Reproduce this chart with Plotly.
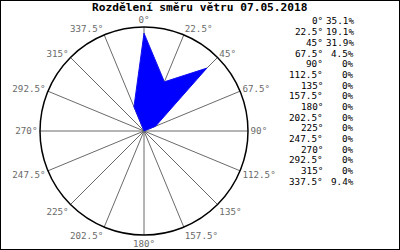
import plotly.graph_objects as go

directions = [0, 22.5, 45, 67.5, 90, 112.5, 135, 157.5, 180, 202.5, 225, 247.5, 270, 292.5, 315, 337.5]
dir_labels = ["0°", "22.5°", "45°", "67.5°", "90°", "112.5°", "135°", "157.5°", "180°",
              "202.5°", "225°", "247.5°", "270°", "292.5°", "315°", "337.5°"]
percent = [35.1, 19.1, 31.9, 4.5, 0, 0, 0, 0, 0, 0, 0, 0, 0, 0, 0, 9.4]
percent_labels = ["35.1%", "19.1%", "31.9%", "4.5%", "0%", "0%", "0%", "0%", "0%", "0%",
                  "0%", "0%", "0%", "0%", "0%", "9.4%"]
title_text = "Rozdělení směru větru 07.05.2018"

W, H = 400, 250
MONO = "DejaVu Sans Mono"

fig = go.Figure()
fig.add_trace(go.Scatterpolar(
    r=percent + [percent[0]],
    theta=directions + [directions[0]],
    mode="lines",
    fill="toself",
    fillcolor="#0000ff",
    line=dict(color="#1010f0", width=1),
    hoverinfo="skip",
))

fig.update_layout(
    width=W, height=H,
    margin=dict(l=0, r=0, t=0, b=0),
    paper_bgcolor="white",
    showlegend=False,
    polar=dict(
        domain=dict(x=[40 / W, 248 / W], y=[(H - 235) / H, (H - 27) / H]),
        bgcolor="white",
        radialaxis=dict(range=[0, 37.3], visible=False, showgrid=False),
        angularaxis=dict(
            rotation=90, direction="clockwise",
            tickmode="array", tickvals=directions, ticktext=dir_labels,
            showline=True, linecolor="black", linewidth=1.5,
            showgrid=True, gridcolor="#6a6a6a", gridwidth=1,
            ticks="", tickfont=dict(family=MONO, size=9.2, color="#6a6a6a"),
        ),
    ),
)

anns = [dict(x=0.5, y=1 - 7 / H, xref="paper", yref="paper", text=title_text,
             showarrow=False, xanchor="center", yanchor="middle",
             font=dict(family=MONO, size=11.2, color="black", weight="bold"))]
for i, (d, p) in enumerate(zip(dir_labels, percent_labels)):
    y = 1 - (21 + 10.67 * i) / H
    anns.append(dict(x=325 / W, y=y, xref="paper", yref="paper", text=d, showarrow=False,
                     xanchor="right", yanchor="middle",
                     font=dict(family=MONO, size=9.3, color="black")))
    anns.append(dict(x=356 / W, y=y, xref="paper", yref="paper", text=p, showarrow=False,
                     xanchor="right", yanchor="middle",
                     font=dict(family=MONO, size=9.3, color="black")))
fig.update_layout(annotations=anns)

fig.add_shape(type="rect", xref="paper", yref="paper", x0=0, y0=0, x1=1, y1=1,
              line=dict(color="black", width=2))

fig.write_html("out.html")
